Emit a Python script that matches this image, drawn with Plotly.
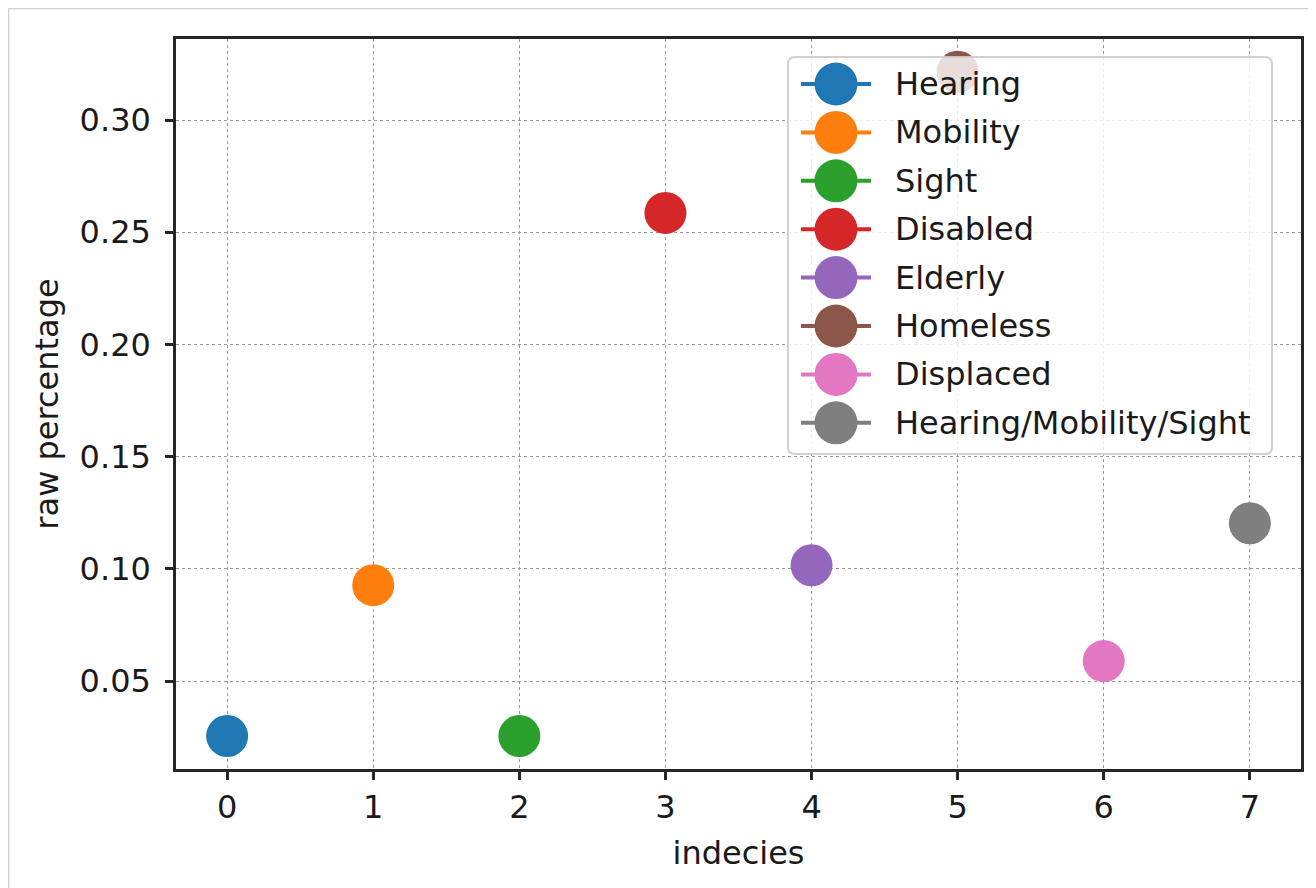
import plotly.graph_objects as go

# ---- data ----
categories = ["Hearing", "Mobility", "Sight", "Disabled", "Elderly",
              "Homeless", "Displaced", "Hearing/Mobility/Sight"]
indices = [0, 1, 2, 3, 4, 5, 6, 7]
raw_percentage = [0.0255, 0.0927, 0.0255, 0.2586, 0.1016, 0.3215, 0.0589, 0.1203]
colors = ["#1f77b4", "#ff7f0e", "#2ca02c", "#d62728",
          "#9467bd", "#8c564b", "#e377c2", "#7f7f7f"]
x_ticks = [0, 1, 2, 3, 4, 5, 6, 7]
y_ticks = [0.05, 0.10, 0.15, 0.20, 0.25, 0.30]
y_tick_labels = ["0.05", "0.10", "0.15", "0.20", "0.25", "0.30"]

X_RANGE = [-0.35, 7.35]
Y_RANGE = [0.0108, 0.3361]

# ---- layout geometry (screen pixels; page body has an 8px margin) ----
OFF = 8
W, H = 1316 - OFF, 888 - OFF
PL, PR, PT, PB = 176, 1301, 39, 769  # plot area on screen
FONT = "DejaVu Sans"
FS = 32
TXT = "#1a1a1a"
SPINE = "#262626"

fig = go.Figure()

for i, name in enumerate(categories):
    fig.add_trace(go.Scatter(
        x=[indices[i]], y=[raw_percentage[i]], mode="markers", name=name,
        marker=dict(size=42, color=colors[i], line=dict(width=0)),
        showlegend=False, xaxis="x", yaxis="y",
    ))

# invisible trace to register the pixel-unit overlay axes used by the legend
fig.add_trace(go.Scatter(x=[PL], y=[PB], mode="markers", marker=dict(opacity=0),
                         showlegend=False, hoverinfo="skip", xaxis="x2", yaxis="y2"))

# ---- custom legend (matplotlib-style, semi-transparent box above the data) ----
box_l, box_t, box_r, box_b = 788, 57, 1272, 454
row0, row_step = 84, 48.4
line_x0, line_x1, mark_x, text_x = 801, 871, 836, 893
mark_r = 21.5
rows_y = [row0 + i * row_step for i in range(len(categories))]

r = 7
legend_path = (
    f"M {box_l + r},{box_t} L {box_r - r},{box_t} Q {box_r},{box_t} {box_r},{box_t + r} "
    f"L {box_r},{box_b - r} Q {box_r},{box_b} {box_r - r},{box_b} "
    f"L {box_l + r},{box_b} Q {box_l},{box_b} {box_l},{box_b - r} "
    f"L {box_l},{box_t + r} Q {box_l},{box_t} {box_l + r},{box_t} Z"
)
fig.add_shape(type="path", path=legend_path, xref="x2", yref="y2",
              fillcolor="rgba(255,255,255,0.8)",
              line=dict(color="rgba(204,204,204,0.9)", width=2), layer="above")

for i, name in enumerate(categories):
    fig.add_shape(type="line", xref="x2", yref="y2",
                  x0=line_x0, x1=line_x1, y0=rows_y[i], y1=rows_y[i],
                  line=dict(color=colors[i], width=4), layer="above")
    fig.add_shape(type="circle", xref="x2", yref="y2",
                  x0=mark_x - mark_r, x1=mark_x + mark_r,
                  y0=rows_y[i] - mark_r, y1=rows_y[i] + mark_r,
                  fillcolor=colors[i], line=dict(width=0), layer="above")
    fig.add_annotation(
        x=text_x, y=rows_y[i], xref="x2", yref="y2", text=name,
        showarrow=False, xanchor="left", yanchor="middle",
        font=dict(family=FONT, size=FS, color=TXT),
    )


# ---- outer container border (top and left) ----
def fx(px):  # screen px -> paper x
    return (px - PL) / (PR - PL)


def fy(py):  # screen px -> paper y
    return (PB - py) / (PB - PT)


fig.add_shape(type="line", xref="paper", yref="paper",
              x0=fx(8.5), x1=fx(8.5), y0=fy(8.5), y1=fy(900),
              line=dict(color="#d0d0d0", width=1.5))
fig.add_shape(type="line", xref="paper", yref="paper",
              x0=fx(8.5), x1=fx(1330), y0=fy(8.5), y1=fy(8.5),
              line=dict(color="#d0d0d0", width=1.5))

axis_common = dict(
    showline=True, linecolor=SPINE, linewidth=2.5, mirror=True,
    ticks="outside", ticklen=8, tickwidth=2.5, tickcolor=SPINE,
    showgrid=True, gridcolor="#9a9a9a", gridwidth=1, griddash="dot",
    zeroline=False, automargin=False,
    tickfont=dict(family=FONT, size=FS, color=TXT),
)

fig.update_layout(
    width=W, height=H,
    margin=dict(l=PL - OFF, r=W - (PR - OFF), t=PT - OFF, b=H - (PB - OFF)),
    paper_bgcolor="white", plot_bgcolor="white",
    showlegend=False,
    font=dict(family=FONT, size=FS, color=TXT),
    xaxis=dict(
        range=X_RANGE, tickmode="array", tickvals=x_ticks,
        ticktext=[str(v) for v in x_ticks],
        title=dict(text="indecies", font=dict(family=FONT, size=FS, color=TXT), standoff=17),
        ticklabelstandoff=0,
        **axis_common,
    ),
    yaxis=dict(
        range=Y_RANGE, tickmode="array", tickvals=y_ticks,
        ticktext=y_tick_labels,
        title=dict(text="raw percentage", font=dict(family=FONT, size=FS, color=TXT), standoff=12),
        ticklabelstandoff=8,
        **axis_common,
    ),
    xaxis2=dict(range=[PL, PR], overlaying="x", visible=False, fixedrange=True),
    yaxis2=dict(range=[PB, PT], overlaying="y", visible=False, fixedrange=True),
)

fig.write_html("out.html")
